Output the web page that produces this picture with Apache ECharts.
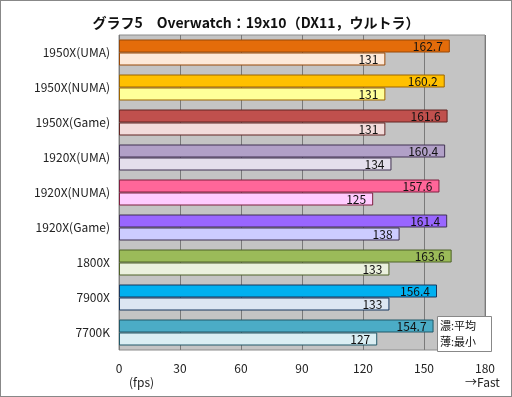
<!DOCTYPE html>
<html>
<head>
<meta charset="utf-8">
<script src="https://cdn.jsdelivr.net/npm/echarts@6/dist/echarts.min.js"></script>
<style>
  html, body { margin: 0; padding: 0; background: #fff; }
  #chart { width: 510px; height: 395px; border: 1px solid #888; }
</style>
</head>
<body>
<div id="chart"></div>
<script>
const categories = ["1950X(UMA)", "1950X(NUMA)", "1950X(Game)", "1920X(UMA)", "1920X(NUMA)", "1920X(Game)", "1800X", "7900X", "7700K"];
const avgValues = [162.7, 160.2, 161.6, 160.4, 157.6, 161.4, 163.6, 156.4, 154.7];
const minValues = [131, 131, 131, 134, 125, 138, 133, 133, 127];
const xTicks = [0, 30, 60, 90, 120, 150, 180];

// dark = average, light = minimum
const darkColors = ["#E46C0A", "#FFC000", "#C0504D", "#B1A0C7", "#FF6699", "#9966FF", "#9BBB59", "#00B0F0", "#4BACC6"];
const lightColors = ["#FDE9D9", "#FFFF99", "#F2DCDB", "#E4DFEC", "#FFCCFF", "#CCCCFF", "#EBF1DE", "#DCE6F2", "#DAEEF3"];
const edgeColors = ["#984807", "#9C6500", "#632523", "#403152", "#7F1F3F", "#3F3151", "#4F6228", "#17375E", "#215968"];

const font = "'Noto Sans CJK JP', 'Noto Sans', sans-serif";

let chart = echarts.init(document.getElementById("chart"));

function barData(values, fills) {
  return values.map(function (v, i) {
    return {
      value: v,
      itemStyle: { color: fills[i], borderColor: edgeColors[i], borderWidth: 1 }
    };
  });
}

let option = {
  animation: false,
  textStyle: { fontFamily: font },
  title: {
    text: "グラフ5　Overwatch：19x10（DX11，ウルトラ）",
    left: "center",
    top: 10,
    textStyle: { fontSize: 14, fontWeight: "bold", color: "#111", fontFamily: font }
  },
  grid: { left: 118, right: 26, top: 34, bottom: 46, containLabel: false,
    show: true, backgroundColor: "#C4C4C4", borderColor: "#8C8C8C", borderWidth: 1 },
  xAxis: {
    type: "value",
    min: xTicks[0],
    max: xTicks[xTicks.length - 1],
    interval: 30,
    axisLine: { show: false },
    axisTick: { show: false },
    splitLine: { show: true, lineStyle: { color: "#7A7A7A", width: 1, type: "solid" } },
    axisLabel: { color: "#222", fontSize: 12, margin: 12, fontFamily: font }
  },
  yAxis: {
    type: "category",
    data: categories,
    inverse: true,
    axisLine: { show: false },
    axisTick: { show: false },
    splitLine: { show: false },
    axisLabel: { color: "#222", fontSize: 12, margin: 9, fontFamily: font }
  },
  series: [
    {
      name: "平均",
      type: "bar",
      barWidth: 13,
      barGap: "0%",
      data: barData(avgValues, darkColors),
      label: { show: true, position: "insideRight", distance: 7, color: "#111",
        fontSize: 12, fontFamily: font, formatter: function (p) { return p.value.toFixed(1); } }
    },
    {
      name: "最小",
      type: "bar",
      barWidth: 13,
      barGap: "0%",
      data: barData(minValues, lightColors),
      label: { show: true, position: "insideRight", distance: 7, color: "#111",
        fontSize: 12, fontFamily: font }
    }
  ],
  graphic: [
    { type: "text", left: 128, top: 375,
      style: { text: "(fps)", fill: "#222", font: "12px " + font } },
    { type: "text", left: 464, top: 375,
      style: { text: "→Fast", fill: "#222", font: "12px " + font } },
    { type: "rect", left: 436, top: 315, z: 10,
      shape: { width: 54, height: 35 },
      style: { fill: "#fff", stroke: "#888", lineWidth: 1 } },
    { type: "text", left: 439, top: 317, z: 11,
      style: { text: "濃:平均\n薄:最小", fill: "#111", font: "11px " + font, lineHeight: 16 } }
  ]
};

chart.setOption(option);
</script>
</body>
</html>
